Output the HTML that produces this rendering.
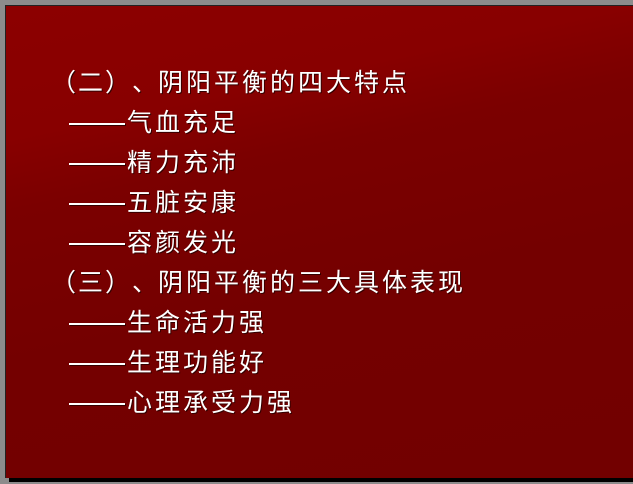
<!DOCTYPE html>
<html><head><meta charset="utf-8"><style>
html,body{margin:0;padding:0;width:633px;height:484px;overflow:hidden;}
body{background:#8c8c8c;position:relative;}
.shadow{position:absolute;left:9px;top:9px;width:624px;height:473px;background:#000;}
.slide{position:absolute;left:5px;top:5px;width:628px;height:473px;background:linear-gradient(168deg,#8c0000 0%,#880000 22%,#7b0000 34%,#740000 60%,#720000 100%);border-left:1px solid #222;border-top:1px solid #222;box-sizing:border-box;overflow:hidden;}
.l{position:absolute;left:44px;height:40px;line-height:40px;color:#fff;font-family:"Noto Sans CJK SC","WenQuanYi Zen Hei",sans-serif;font-size:25px;letter-spacing:3px;white-space:nowrap;text-shadow:1px 1px 0 #300;}
.p{display:inline-block;width:27px;text-align:center;letter-spacing:0;}
.d{left:63px;}
.dash{display:inline-block;width:56px;height:2px;background:#fff;vertical-align:top;margin-top:22px;margin-right:2px;box-shadow:1px 1px 0 #300;}
</style></head><body>
<div class="shadow"></div>
<div class="slide">
<div class="l" style="top:55px"><span class="p">（</span><span class="p">二</span><span class="p">）</span><span class="p">、</span>阴阳平衡的四大特点</div>
<div class="l d" style="top:95px"><span class="dash"></span>气血充足</div>
<div class="l d" style="top:135px"><span class="dash"></span>精力充沛</div>
<div class="l d" style="top:175px"><span class="dash"></span>五脏安康</div>
<div class="l d" style="top:215px"><span class="dash"></span>容颜发光</div>
<div class="l" style="top:255px"><span class="p">（</span><span class="p">三</span><span class="p">）</span><span class="p">、</span>阴阳平衡的三大具体表现</div>
<div class="l d" style="top:295px"><span class="dash"></span>生命活力强</div>
<div class="l d" style="top:335px"><span class="dash"></span>生理功能好</div>
<div class="l d" style="top:375px"><span class="dash"></span>心理承受力强</div>
</div>
</body></html>
